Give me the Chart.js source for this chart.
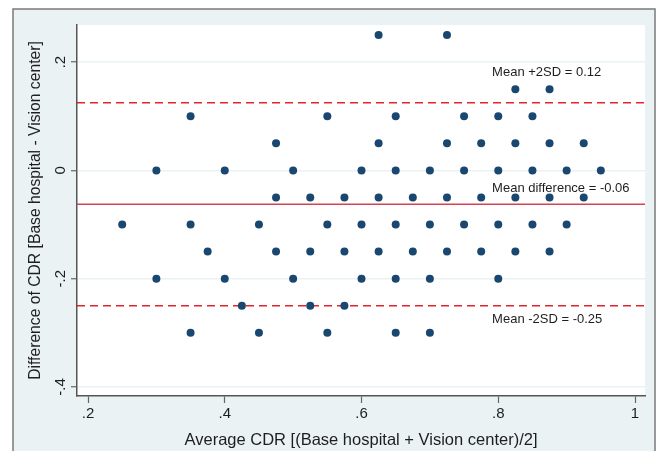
<!DOCTYPE html>
<html>
<head>
<meta charset="utf-8">
<script src="https://cdn.jsdelivr.net/npm/chart.js@4.4.0/dist/chart.umd.min.js"></script>
<style>
  html, body { margin: 0; padding: 0; background: #fff; }
  #c { display: block; }
</style>
</head>
<body>
<canvas id="c" width="659" height="451"></canvas>
<script>
// Bland-Altman data: average CDR vs difference (base hospital - vision center)
const AVG_CDR = [
  0.625, 0.725,
  0.825, 0.875,
  0.35, 0.55, 0.65, 0.75, 0.8, 0.85,
  0.475, 0.625, 0.725, 0.775, 0.825, 0.875, 0.925,
  0.3, 0.4, 0.5, 0.6, 0.65, 0.7, 0.75, 0.8, 0.85, 0.9, 0.95,
  0.475, 0.525, 0.575, 0.625, 0.675, 0.725, 0.775, 0.825, 0.875, 0.925,
  0.25, 0.35, 0.45, 0.55, 0.6, 0.65, 0.7, 0.75, 0.8, 0.85, 0.9,
  0.375, 0.475, 0.525, 0.575, 0.625, 0.675, 0.725, 0.775, 0.825, 0.875,
  0.3, 0.4, 0.5, 0.6, 0.65, 0.7, 0.8,
  0.425, 0.525, 0.575,
  0.35, 0.45, 0.55, 0.65, 0.7
];
const DIFF_CDR = [
  0.25, 0.25,
  0.15, 0.15,
  0.1, 0.1, 0.1, 0.1, 0.1, 0.1,
  0.05, 0.05, 0.05, 0.05, 0.05, 0.05, 0.05,
  0, 0, 0, 0, 0, 0, 0, 0, 0, 0, 0,
  -0.05, -0.05, -0.05, -0.05, -0.05, -0.05, -0.05, -0.05, -0.05, -0.05,
  -0.1, -0.1, -0.1, -0.1, -0.1, -0.1, -0.1, -0.1, -0.1, -0.1, -0.1,
  -0.15, -0.15, -0.15, -0.15, -0.15, -0.15, -0.15, -0.15, -0.15, -0.15,
  -0.2, -0.2, -0.2, -0.2, -0.2, -0.2, -0.2,
  -0.25, -0.25, -0.25,
  -0.3, -0.3, -0.3, -0.3, -0.3
];

const MEAN_DIFF = -0.0625;
const UPPER_LOA = 0.125;
const LOWER_LOA = -0.25;
const LINE_LABELS = ['Mean +2SD = 0.12', 'Mean difference = -0.06', 'Mean -2SD = -0.25'];

const X_TICKS = [0.2, 0.4, 0.6, 0.8, 1];
const Y_TICKS = [0.2, 0, -0.2, -0.4];
const X_MIN = 0.1839, X_MAX = 1.0146;
const Y_MIN = -0.4167, Y_MAX = 0.2685;

const FONT = '"Liberation Sans", Arial, sans-serif';
const TEXT = '#1e1e1e';

function stataLabel(v) {
  if (v === 0) return '0';
  const s = String(Math.abs(+v.toFixed(2))).replace(/^0/, '');
  return (v < 0 ? '-' : '') + s;
}

const points = AVG_CDR.map((x, i) => ({ x, y: DIFF_CDR[i] }));
const hline = y => [{ x: X_MIN, y }, { x: X_MAX, y }];

// frame + plot region backgrounds
const backdrop = {
  id: 'backdrop',
  beforeDraw(chart) {
    const { ctx, chartArea: a } = chart;
    ctx.save();
    ctx.fillStyle = '#fff';
    ctx.fillRect(0, 0, chart.width, chart.height);
    ctx.fillStyle = '#eaf2f3';
    ctx.fillRect(13, 9, 642, 460);
    ctx.strokeStyle = '#7a7a7a';
    ctx.lineWidth = 1.5;
    ctx.strokeRect(13, 9, 642, 460);
    ctx.fillStyle = '#fff';
    ctx.fillRect(a.left, a.top, a.right - a.left, a.bottom - a.top);
    ctx.restore();
  }
};

// rotated y tick labels and reference line captions
const annotations = {
  id: 'annotations',
  afterDraw(chart) {
    const { ctx } = chart;
    const ys = chart.scales.y, xs = chart.scales.x;
    ctx.save();
    ctx.fillStyle = TEXT;
    ctx.font = '15px ' + FONT;
    ctx.textAlign = 'center';
    ctx.textBaseline = 'middle';
    Y_TICKS.forEach(v => {
      ctx.save();
      ctx.translate(61, ys.getPixelForValue(v));
      ctx.rotate(-Math.PI / 2);
      ctx.fillText(stataLabel(v), 0, 0);
      ctx.restore();
    });
    ctx.font = '13px ' + FONT;
    ctx.textAlign = 'left';
    const lx = xs.getPixelForValue(0.791);
    ctx.fillText(LINE_LABELS[0], lx, ys.getPixelForValue(UPPER_LOA) - 30);
    ctx.fillText(LINE_LABELS[1], lx, ys.getPixelForValue(MEAN_DIFF) - 16);
    ctx.fillText(LINE_LABELS[2], lx, ys.getPixelForValue(LOWER_LOA) + 14);
    ctx.restore();
  }
};

new Chart(document.getElementById('c'), {
  type: 'scatter',
  data: {
    datasets: [
      { data: hline(UPPER_LOA), showLine: true, borderColor: '#e3242d', borderWidth: 1.6,
        borderDash: [8, 5], pointRadius: 0, order: 2 },
      { data: hline(LOWER_LOA), showLine: true, borderColor: '#e3242d', borderWidth: 1.6,
        borderDash: [8, 5], pointRadius: 0, order: 2 },
      { data: hline(MEAN_DIFF), showLine: true, borderColor: '#d8424f', borderWidth: 1.6,
        pointRadius: 0, order: 2 },
      { data: points, backgroundColor: '#1a476f', borderColor: '#1a476f', borderWidth: 0,
        pointRadius: 4, pointHoverRadius: 4, order: 1 },
    ],
  },
  options: {
    responsive: false,
    animation: false,
    devicePixelRatio: 1,
    layout: { padding: { left: 0, top: 25, right: 14, bottom: 0 } },
    plugins: { legend: { display: false }, tooltip: { enabled: false } },
    scales: {
      x: {
        type: 'linear', min: X_MIN, max: X_MAX,
        afterBuildTicks: s => { s.ticks = X_TICKS.map(value => ({ value })); },
        afterFit: s => { s.height = 55; },
        grid: { drawOnChartArea: false, drawTicks: true, tickLength: 7, tickColor: '#666', tickWidth: 1.2 },
        border: { display: true, color: '#555', width: 1.5 },
        ticks: { callback: v => stataLabel(v), color: TEXT, font: { family: FONT, size: 15 }, padding: 2, maxRotation: 0 },
        title: { display: true, text: 'Average CDR [(Base hospital + Vision center)/2]', color: TEXT,
          font: { family: FONT, size: 16.5 }, padding: { top: 0, bottom: 1 } },
      },
      y: {
        type: 'linear', min: Y_MIN, max: Y_MAX,
        afterBuildTicks: s => { s.ticks = Y_TICKS.map(value => ({ value })); },
        afterFit: s => { s.width = 77; },
        grid: { color: '#eaf2f3', lineWidth: 1.5, drawTicks: true, tickLength: 6, tickColor: '#666', tickWidth: 1.2 },
        border: { display: true, color: '#555', width: 1.5 },
        ticks: { display: false },
        title: { display: true, text: 'Difference of CDR [Base hospital - Vision center]', color: TEXT,
          font: { family: FONT, size: 15.7 }, padding: { top: 26, bottom: 0 } },
      },
    },
  },
  plugins: [backdrop, annotations],
});
</script>
</body>
</html>
